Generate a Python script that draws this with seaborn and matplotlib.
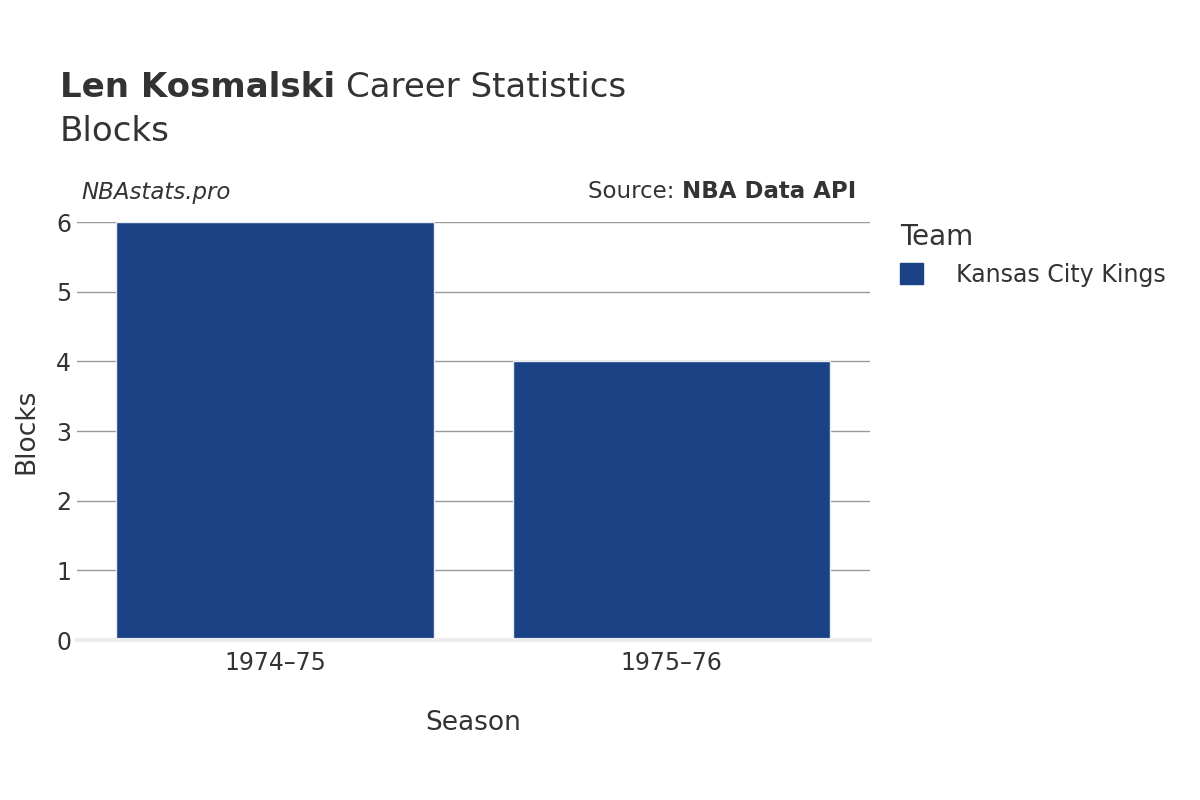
import matplotlib
matplotlib.use("Agg")
import matplotlib.pyplot as plt
import seaborn as sns
import pandas as pd
from matplotlib.patches import Patch

seasons = ["1974–75", "1975–76"]
blocks = [6, 4]
teams = ["Kansas City Kings", "Kansas City Kings"]
color = "#1c4286"

df = pd.DataFrame({"Season": seasons, "Blocks": blocks, "Team": teams})

fig = plt.figure(figsize=(12, 8), dpi=100)
ax = fig.add_axes([0.064, 0.2, 0.661, 0.5225])
sns.barplot(data=df, x="Season", y="Blocks", hue="Team", palette=[color],
            width=0.8, ax=ax, legend=False, saturation=1, edgecolor="#e8ecf4", linewidth=1)
ax.set_ylim(0, 6)
ax.set_yticks(range(7))
ax.grid(axis="y", color="#999999", linewidth=1)
ax.set_axisbelow(True)
for s in ["top", "right", "left"]:
    ax.spines[s].set_visible(False)
ax.spines["bottom"].set_color("#eeeeee")
ax.spines["bottom"].set_linewidth(3)
ax.tick_params(axis="x", length=0, labelsize=17, labelcolor="#333333", pad=8)
ax.tick_params(axis="y", length=0, labelsize=17, labelcolor="#333333", pad=4)
ax.set_xlabel("Season", fontsize=19, color="#333333", labelpad=25)
ax.set_ylabel("Blocks", fontsize=19, color="#333333", labelpad=12)

fig.text(0.05, 0.87, "Len Kosmalski", fontsize=24.5, fontweight="bold", color="#333333", va="bottom")
fig.text(0.288, 0.87, "Career Statistics", fontsize=24.5, color="#333333", va="bottom")
fig.text(0.05, 0.815, "Blocks", fontsize=24.5, color="#333333", va="bottom")
fig.text(0.068, 0.76, "NBAstats.pro", fontsize=16.5, style="italic", color="#333333", va="center")
fig.text(0.568, 0.76, "Source: ", fontsize=16.5, color="#333333", va="center", ha="right")
fig.text(0.568, 0.76, "NBA Data API", fontsize=16.5, fontweight="bold", color="#333333", va="center", ha="left")

leg = fig.legend(handles=[Patch(color=color, label="Kansas City Kings")], title="Team",
                 loc="upper left", bbox_to_anchor=(0.732, 0.748), frameon=False,
                 fontsize=17, title_fontsize=20, handlelength=1, handleheight=1,
                 handletextpad=1.4, alignment="left")
for t in leg.get_texts():
    t.set_color("#333333")
leg.get_title().set_color("#333333")

fig.savefig("out.png", dpi=100)
